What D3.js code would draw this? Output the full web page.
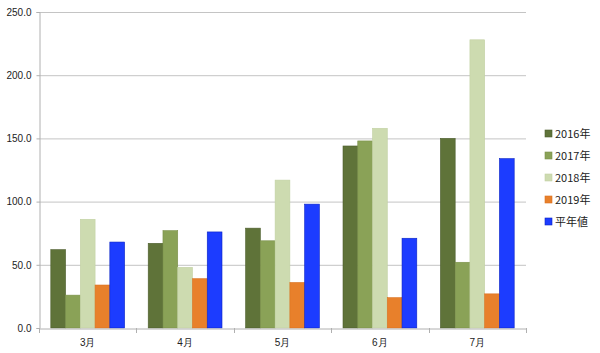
<!DOCTYPE html>
<html><head><meta charset="utf-8">
<script src="https://cdn.jsdelivr.net/npm/d3@7"></script>
<style>body{margin:0;background:#fff;}svg{display:block;font-family:"Noto Sans CJK JP","DejaVu Sans",sans-serif;}</style>
</head><body><svg id="c" width="600" height="353"></svg>
<script>
const categories = ["3月","4月","5月","6月","7月"];
const seriesNames = ["2016年","2017年","2018年","2019年","平年値"];
const s2016 = [62, 67, 79, 144, 150];
const s2017 = [26, 77, 69, 148, 52];
const s2018 = [86, 48, 117, 158, 228];
const s2019 = [34, 39, 36, 24, 27];
const sNormal = [68, 76, 98, 71, 134];
const yTicks = [0, 50, 100, 150, 200, 250];
const colors = ["#5f7339","#8aa257","#cddbb0","#e8802b","#1c3cff"];
const strokes = ["#4d5e2d","#7a9049","#c2d1a3","#d9711e","#0a23c4"];

const seriesVals = [s2016, s2017, s2018, s2019, sNormal];
const svg = d3.select("#c");
const m = {l:39, r:526, t:12, b:328};
const x = d3.scaleBand().domain(categories).range([m.l, m.r]).paddingInner(0).paddingOuter(0);
const x1 = d3.scaleBand().domain(seriesNames).range([0, x.bandwidth()]).paddingOuter(0.8).paddingInner(0);
const y = d3.scaleLinear().domain([0,250]).range([m.b, m.t]);

// gridlines
svg.append("g").selectAll("line").data(yTicks.filter(d=>d>0)).join("line")
  .attr("x1", m.l).attr("x2", m.r).attr("y1", d=>y(d)+0.5).attr("y2", d=>y(d)+0.5)
  .attr("stroke", "#c4c4c4").attr("stroke-width", 1);

// bars
const g = svg.append("g");
categories.forEach((c, ci) => {
  seriesNames.forEach((s, si) => {
    const v = seriesVals[si][ci];
    g.append("rect")
      .attr("x", x(c) + x1(s)).attr("y", y(v))
      .attr("width", x1.bandwidth()).attr("height", y(0) - y(v))
      .attr("fill", colors[si]).attr("stroke", strokes[si]).attr("stroke-width", 0.6);
  });
});

// y axis
const ya = d3.axisLeft(y).tickValues(yTicks).tickFormat(d3.format(".1f")).tickSize(3).tickPadding(5);
const yg = svg.append("g").attr("transform", `translate(${m.l+0.5},0)`).call(ya);
yg.select(".domain").attr("stroke", "#b0b0b0");
yg.selectAll(".tick line").attr("stroke", "#b0b0b0");
yg.selectAll("text").attr("font-size", 10).attr("fill", "#222");

// x axis
const xa = d3.axisBottom(x).tickSize(0).tickPadding(10);
const xg = svg.append("g").attr("transform", `translate(0,${m.b+0.5})`).call(xa);
xg.select(".domain").attr("stroke", "#b0b0b0");
xg.selectAll("text").attr("font-size", 10).attr("fill", "#222");
// boundary tick marks
svg.append("g").selectAll("line").data(categories.concat(["end"])).join("line")
  .attr("x1", (d,i)=> i<categories.length ? Math.round(x(d))+0.5 : m.r+0.5)
  .attr("x2", (d,i)=> i<categories.length ? Math.round(x(d))+0.5 : m.r+0.5)
  .attr("y1", m.b).attr("y2", m.b+5).attr("stroke", "#b0b0b0");

// legend
const lg = svg.append("g").attr("transform", "translate(545,134)");
seriesNames.forEach((s, i) => {
  const row = lg.append("g").attr("transform", `translate(0,${i*22})`);
  row.append("rect").attr("x", 0).attr("y", -4).attr("width", 7).attr("height", 7)
    .attr("fill", colors[i]).attr("stroke", strokes[i]).attr("stroke-width", 0.6);
  row.append("text").attr("x", 10).attr("y", 0).attr("dy", "0.35em")
    .attr("font-size", 11).attr("fill", "#222").text(s);
});
</script></body></html>
